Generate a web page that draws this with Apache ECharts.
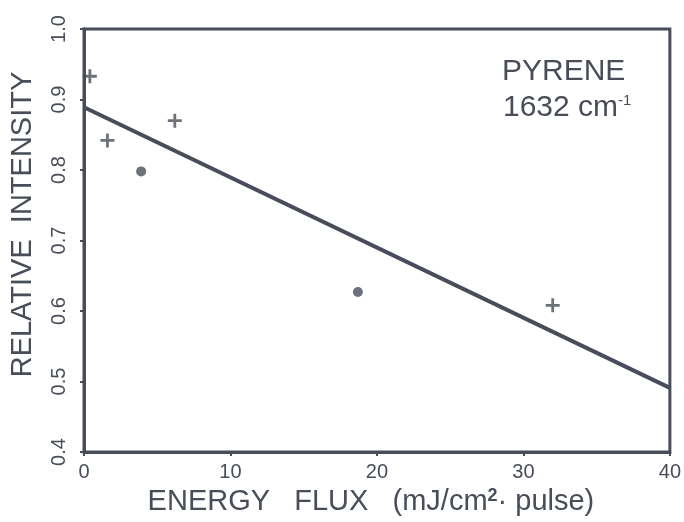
<!DOCTYPE html>
<html>
<head>
<meta charset="utf-8">
<script src="https://cdn.jsdelivr.net/npm/echarts@6/dist/echarts.min.js"></script>
<style>
  html, body { margin: 0; padding: 0; background: #fff; }
  #chart { width: 684px; height: 522px; }
</style>
</head>
<body>
<div id="chart"></div>
<script>
// values
const crossX = [0.4, 1.6, 6.2, 32.0];
const crossY = [0.933, 0.842, 0.870, 0.608];
const dotX = [3.9, 18.7];
const dotY = [0.798, 0.627];
const fitX = [0, 40];
const fitY = [0.889, 0.491];
const xTicks = [0, 10, 20, 30, 40];
const yTicks = [0.4, 0.5, 0.6, 0.7, 0.8, 0.9, 1.0];

const ink = '#484d59';
const font = '"Liberation Sans", Arial, sans-serif';
const plus = 'path://M4,0H6V4H10V6H6V10H4V6H0V4H4Z';

const pairs = (xs, ys) => xs.map((x, i) => [x, ys[i]]);

const chart = echarts.init(document.getElementById('chart'), null, { renderer: 'canvas' });
chart.setOption({
  animation: false,
  grid: {
    left: 82, right: 11, top: 29, bottom: 70,
    show: true, borderColor: ink, borderWidth: 3,
  },
  xAxis: {
    type: 'value',
    min: xTicks[0],
    max: xTicks[xTicks.length - 1],
    interval: 10,
    axisLine: { show: true, lineStyle: { color: ink, width: 3 } },
    axisTick: { show: true, length: 4, lineStyle: { color: ink, width: 2 } },
    splitLine: { show: false },
    axisLabel: { color: ink, fontFamily: font, fontSize: 20, margin: 10 },
    name: 'ENERGY   FLUX   (mJ/cm{s|2}· pulse)',
    nameLocation: 'middle',
    nameGap: 33,
    nameTextStyle: {
      color: ink, fontFamily: font, fontSize: 29, padding: [0, 12, 0, 0],
      rich: { s: { color: ink, fontFamily: font, fontSize: 18, fontWeight: 'bold', verticalAlign: 'top', padding: [0, 0, 12, 0] } },
    },
  },
  yAxis: {
    type: 'value',
    min: yTicks[0],
    max: yTicks[yTicks.length - 1],
    interval: 0.1,
    axisLine: { show: true, lineStyle: { color: ink, width: 3 } },
    axisTick: { show: true, length: 4, lineStyle: { color: ink, width: 2 } },
    splitLine: { show: false },
    axisLabel: {
      color: ink, fontFamily: font, fontSize: 20, rotate: 90, margin: 15,
      formatter: (v) => v.toFixed(1),
    },
    name: 'RELATIVE  INTENSITY',
    nameLocation: 'middle',
    nameGap: 47,
    nameTextStyle: { color: ink, fontFamily: font, fontSize: 29, padding: [0, 0, 0, 32] },
  },
  graphic: [
    {
      type: 'text', left: 502, top: 57,
      style: { text: 'PYRENE', fill: ink, font: '30px ' + font },
    },
    {
      type: 'text', left: 503, top: 93,
      style: {
        text: '1632 cm{s|-1}', fill: ink, font: '30px ' + font,
        rich: { s: { fill: ink, font: '15px ' + font, verticalAlign: 'top', padding: [0, 0, 14, 0] } },
      },
    },
  ],
  series: [
    {
      type: 'line',
      data: pairs(fitX, fitY),
      symbol: 'none',
      lineStyle: { color: ink, width: 4 },
      z: 2,
    },
    {
      type: 'scatter',
      data: pairs(crossX, crossY),
      symbol: plus,
      symbolSize: 14,
      itemStyle: { color: ink },
      z: 3,
    },
    {
      type: 'scatter',
      data: pairs(dotX, dotY),
      symbol: 'circle',
      symbolSize: 10,
      itemStyle: { color: ink },
      z: 3,
    },
  ],
});
</script>
</body>
</html>
